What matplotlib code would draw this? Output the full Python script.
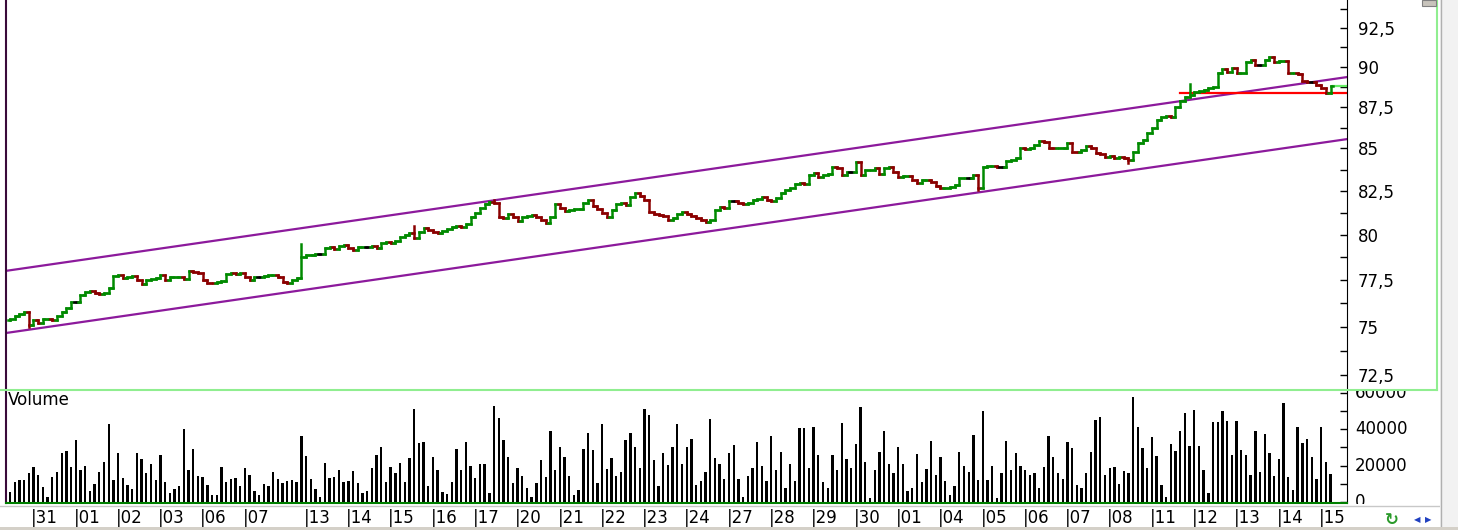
"""Hourly price chart with trend channel and volume panel."""

import matplotlib as mpl

mpl.use("Agg")
import matplotlib.pyplot as plt
from matplotlib.collections import LineCollection
from matplotlib.lines import Line2D
from matplotlib.patches import Rectangle
from matplotlib.ticker import FixedLocator, NullFormatter
from matplotlib.transforms import blended_transform_factory

W, H = 1458, 530

# ---- data ------------------------------------------------------------------
first_open = 75.35
closes = [
    75.42, 75.57, 75.68, 75.80, 75.09, 75.35, 75.18, 75.39, 75.41, 75.35,
    75.57, 75.77, 76.01, 76.33, 76.33, 76.69, 76.87, 76.89, 76.82, 76.73,
    76.78, 77.05, 77.72, 77.77, 77.59, 77.64, 77.72, 77.49, 77.26, 77.49,
    77.53, 77.59, 77.77, 77.49, 77.64, 77.66, 77.68, 77.53, 77.99, 77.95,
    77.87, 77.49, 77.35, 77.32, 77.37, 77.46, 77.81, 77.87, 77.81, 77.87,
    77.68, 77.49, 77.64, 77.64, 77.72, 77.77, 77.79, 77.68, 77.40, 77.35,
    77.49, 77.59, 78.78, 78.88, 78.90, 78.93, 78.93, 79.25, 79.34, 79.21,
    79.38, 79.43, 79.28, 79.15, 79.30, 79.34, 79.34, 79.39, 79.25, 79.52,
    79.61, 79.52, 79.65, 79.89, 79.98, 80.08, 79.83, 80.17, 80.40, 80.27,
    80.17, 80.11, 80.23, 80.31, 80.42, 80.50, 80.46, 80.59, 81.03, 81.22,
    81.51, 81.75, 81.85, 81.79, 81.03, 80.94, 81.16, 81.03, 80.78, 80.99,
    81.08, 81.12, 81.03, 80.84, 80.68, 81.03, 81.75, 81.51, 81.37, 81.41,
    81.45, 81.48, 81.83, 81.98, 81.64, 81.45, 81.22, 81.03, 81.41, 81.75,
    81.83, 81.69, 82.17, 82.40, 82.21, 81.98, 81.31, 81.18, 81.12, 81.07,
    80.84, 80.94, 81.18, 81.31, 81.18, 81.07, 80.94, 80.84, 80.74, 80.84,
    81.41, 81.56, 81.51, 81.94, 81.94, 81.83, 81.75, 81.79, 81.98, 82.02,
    82.17, 81.98, 81.94, 82.11, 82.36, 82.55, 82.65, 82.91, 82.98, 82.91,
    83.44, 83.57, 83.30, 83.44, 83.48, 83.92, 83.83, 83.44, 83.63, 83.63,
    84.18, 83.44, 83.73, 83.75, 83.83, 83.48, 83.87, 83.92, 83.63, 83.34,
    83.36, 83.38, 83.14, 82.95, 83.14, 83.16, 83.01, 82.81, 82.65, 82.69,
    82.75, 82.85, 83.24, 83.28, 83.28, 83.44, 82.65, 83.92, 83.94, 83.98,
    83.92, 83.92, 84.26, 84.32, 84.42, 85.01, 84.96, 85.04, 85.21, 85.47,
    85.41, 85.04, 85.01, 85.03, 85.05, 85.31, 84.81, 84.77, 84.91, 85.15,
    85.01, 84.71, 84.69, 84.51, 84.53, 84.42, 84.51, 84.42, 84.32, 84.81,
    85.31, 85.51, 85.91, 86.22, 86.72, 86.92, 86.96, 86.92, 87.53, 87.88,
    88.15, 88.26, 88.46, 88.48, 88.57, 88.67, 88.77, 89.61, 89.88, 89.71,
    89.96, 89.61, 89.63, 90.34, 90.45, 90.13, 90.13, 90.45, 90.66, 90.34,
    90.36, 90.38, 89.61, 89.63, 89.55, 89.13, 89.05, 89.05, 88.88, 88.67,
    88.36, 88.82,
]
wick_high = {62: 79.47, 86: 80.51, 103: 81.98, 251: 88.95}
wick_low = {4: 74.96, 206: 82.55, 238: 84.12}

volume = [
    5400, 11000, 12000, 12000, 16000, 19000, 15000, 8000, 2700, 13700,
    16700, 27000, 28000, 19000, 34000, 17600, 20000, 6000, 10000, 16700,
    22000, 43000, 12000, 27000, 13000, 9400, 7000, 27000, 23600, 16000,
    21000, 12000, 25500, 11000, 5000, 7200, 8600, 40000, 17600, 29000,
    14000, 13500, 9500, 4000, 3600, 19000, 11000, 12800, 13000, 8600,
    18400, 15000, 6300, 4000, 10000, 8600, 16700, 12400, 10400, 11500,
    12000, 10800, 36000, 25000, 12800, 7000, 2700, 21600, 13000, 13700,
    17600, 11000, 11500, 17000, 10400, 4700, 6300, 18700, 25500, 30000,
    11000, 19000, 16000, 21600, 11000, 24300, 50800, 32400, 32800, 9000,
    24800, 17600, 5600, 4300, 11000, 29000, 17600, 32800, 19600, 13000,
    21000, 21000, 5000, 52700, 46000,
    34000, 24500, 10400, 18400, 14400, 7600, 2900, 10400, 23200, 13700,
    39000, 17300, 30400, 24500, 14400, 3600, 6800, 29000, 38000, 28400,
    10400, 42500, 18000, 24000, 14000, 16700, 34000, 37600, 30000, 18400,
    50800, 47500, 23200, 8600, 26800, 20300, 30400, 42500, 21000, 30000,
    34700, 9500, 11500, 16400, 45500, 24000, 20700, 12800, 27000, 31500,
    12400, 2700, 14400, 18400, 32800, 19600, 11500, 36400, 17300, 27500,
    7600, 20700, 11500, 40700, 40300, 18400, 41200, 26000, 10800, 7600,
    26000, 17600, 43500, 23600, 18700, 32000, 52000, 22000, 2300, 17600,
    27500, 38700, 21000, 16000, 30000, 20700, 6300, 7900, 26500, 11000,
    18000, 33500, 15000, 24800, 11500, 4000, 8800, 27500, 20000, 16400,
    36700, 12000, 50000, 12000, 19600, 2000,
    16000, 33500, 17300, 26600, 20000, 17300, 15000, 16000, 7900, 19000,
    36000, 24800, 16000, 12400, 32800, 29500, 9500, 7600, 16000, 27500,
    44800, 46400, 14800, 18400, 19000, 9900, 17100, 16000, 57600, 40900,
    29500, 18700, 35500, 25200, 9500, 3000, 31700, 28000, 38700, 49000,
    30500, 50500, 30500, 17500, 5000, 44000, 44000, 50000, 44500, 25500,
    44500, 28500, 26000, 15000, 39000, 16500, 37500, 27000, 14000, 23500,
    54500, 13500, 6500, 41000, 32500, 34500, 24500, 12500, 41000, 22000,
    15500,
]

# first bar of each labelled trading day
day_start = [5, 14, 23, 32, 41, 50, 63, 72, 81, 90, 99, 108, 117, 126, 135,
             144, 153, 162, 171, 180, 189, 198, 207, 216, 225, 234, 243, 252,
             261, 270, 279]
day_label = ["31", "01", "02", "03", "06", "07", "13", "14", "15", "16", "17",
             "20", "21", "22", "23", "24", "27", "28", "29", "30", "01", "04",
             "05", "06", "07", "08", "11", "12", "13", "14", "15"]

# trend channel (end points) and horizontal levels
channel_x = [-0.85, 284.5]
channel_upper = [78.0, 89.37]
channel_lower = [74.67, 85.56]
support_x = [249, 284.5]
support_level = 88.36
last_x = [281.5, 284.5]
last_level = 88.83

price_ticks = [72.5, 75, 77.5, 80, 82.5, 85, 87.5, 90, 92.5]
price_minor = [73.75, 76.25, 78.75, 81.25, 83.75, 86.25, 88.75, 91.25, 93.75]
vol_ticks = [0, 20000, 40000, 60000]
vol_minor = [10000, 30000, 50000]

# ---- figure -----------------------------------------------------------------
plt.rcParams["font.family"] = ["DejaVu Sans"]
plt.rcParams["font.size"] = 12

fig = plt.figure(figsize=(W / 100, H / 100), dpi=100, facecolor="white")


def fx(x):
    return x / W


def fy(y):
    return 1 - y / H


def fig_rect(x0, y0, x1, y1, z, **kw):
    fig.add_artist(Rectangle((fx(x0), fy(y1)), fx(x1) - fx(x0),
                             fy(y0) - fy(y1), transform=fig.transFigure,
                             zorder=z, **kw))


def fig_line(xs, ys, z=3, **kw):
    fig.add_artist(Line2D([fx(x) for x in xs], [fy(y) for y in ys],
                          transform=fig.transFigure, zorder=z, **kw))


ax = fig.add_axes([fx(6), fy(390), fx(1347) - fx(6), fy(0) - fy(390)])
axv = fig.add_axes([fx(6), fy(503), fx(1347) - fx(6), fy(390) - fy(503)])
ax.set_zorder(2)
axv.set_zorder(1)

n = len(closes)
opens = [first_open] + closes[:-1]
segs, cols = [], []
tk = 0.45
for i in range(n):
    o, c = opens[i], closes[i]
    hi = max(o, c, wick_high.get(i, c))
    lo = min(o, c, wick_low.get(i, c))
    if c > o + 0.004:
        col = "#008a00"
    elif c < o - 0.004:
        col = "#8b0000"
    else:
        col = "black"
    segs += [[(i, lo), (i, hi)], [(i - tk, o), (i, o)], [(i, c), (i + tk, c)]]
    cols += [col] * 3
ax.add_collection(LineCollection(segs, colors=cols, linewidths=1.8,
                                 capstyle="projecting", zorder=3))

ax.plot(channel_x, channel_upper, color="#8c1a9c", lw=1.6, zorder=2)
ax.plot(channel_x, channel_lower, color="#8c1a9c", lw=1.6, zorder=2)
ax.plot(support_x, [support_level] * 2, color="#ff0000", lw=1.6, zorder=2)
ax.plot(last_x, [last_level] * 2, color="#66ee66", lw=1.6, zorder=2)

ax.set_yscale("log")
ax.set_xlim(-0.85, 284.5)
ax.set_ylim(71.74, 94.34)
ax.yaxis.tick_right()
ax.yaxis.set_major_locator(FixedLocator(price_ticks))
ax.yaxis.set_major_formatter(
    plt.FixedFormatter([f"{v:g}".replace(".", ",") for v in price_ticks]))
ax.yaxis.set_minor_locator(FixedLocator(price_minor))
ax.yaxis.set_minor_formatter(NullFormatter())
ax.tick_params(axis="y", which="both", direction="in", length=5, width=1,
               pad=8, labelsize=12, colors="black")
ax.tick_params(axis="x", which="both", bottom=False, labelbottom=False)
for s in ("top", "bottom"):
    ax.spines[s].set_visible(False)
ax.spines["right"].set_color("black")
ax.spines["left"].set_color("#3a0a3a")
ax.spines["left"].set_linewidth(1.5)

# volume
axv.bar(range(n), volume, width=0.5, color="black", zorder=3)
axv.set_xlim(-0.85, 284.5)
axv.set_ylim(-550, 61400)
axv.yaxis.tick_right()
axv.yaxis.set_major_locator(FixedLocator(vol_ticks))
axv.yaxis.set_major_formatter(NullFormatter())
axv.yaxis.set_minor_locator(FixedLocator(vol_minor))
axv.tick_params(axis="y", which="both", direction="in", length=5, width=1)
axv.spines["top"].set_visible(False)
axv.spines["right"].set_color("black")
axv.spines["left"].set_color("#3a0a3a")
axv.spines["left"].set_linewidth(1.5)
axv.spines["bottom"].set_color("#008000")
axv.spines["bottom"].set_linewidth(1.5)
axv.set_xticks([d - 0.5 for d in day_start])
axv.set_xticklabels(["|" + s for s in day_label])
axv.tick_params(axis="x", length=0, pad=4, labelsize=12)
for lab in axv.get_xticklabels():
    lab.set_horizontalalignment("left")

tr = blended_transform_factory(axv.transAxes, axv.transData)
for v in vol_ticks:
    axv.text(1.0 + 8 / 1341, v, f"{v}", transform=tr, ha="left",
             va="center", fontsize=12, clip_on=False)

# the price panel hides the top half of "60000", the date strip the foot of "0"
fig_rect(1348.5, 381, 1436, 391, 1.5, facecolor="white", edgecolor="none")
fig_rect(1348.5, 503.5, 1440, 527, 1.5, facecolor="white", edgecolor="none")

fig.text(fx(8), fy(400), "Volume", ha="left", va="center", fontsize=12)

# window frame bits
fig_line([0, 1437], [390, 390], color="#90ee90", lw=1.5)
fig_line([1437, 1437], [0, 390], color="#90ee90", lw=1.5)
fig_line([0, 1440], [506, 506], color="#c8c8c8", lw=1)
fig_rect(1440, 0, 1458, 530, 3, facecolor="#f2f2f2", edgecolor="none")
fig_line([1441, 1441], [0, 530], color="#b0b0b0", lw=1)
fig_rect(0, 527, 1458, 530, 3, facecolor="#d4d0c8", edgecolor="none")
fig_rect(1422, 0, 1436, 6, 3, facecolor="#c8c4bc", edgecolor="#808080",
         lw=0.8)
fig.text(fx(1392), fy(520), "\u21bb", ha="center", va="center",
         fontsize=12, color="#2a9a2a", fontweight="bold", zorder=4)
fig.text(fx(1417), fy(520), "\u25c0", ha="center", va="center",
         fontsize=6, color="#2040c0", zorder=4)
fig.text(fx(1428), fy(520), "\u25b6", ha="center", va="center",
         fontsize=6, color="#2040c0", zorder=4)

fig.savefig("out.png", dpi=100, facecolor="white")
